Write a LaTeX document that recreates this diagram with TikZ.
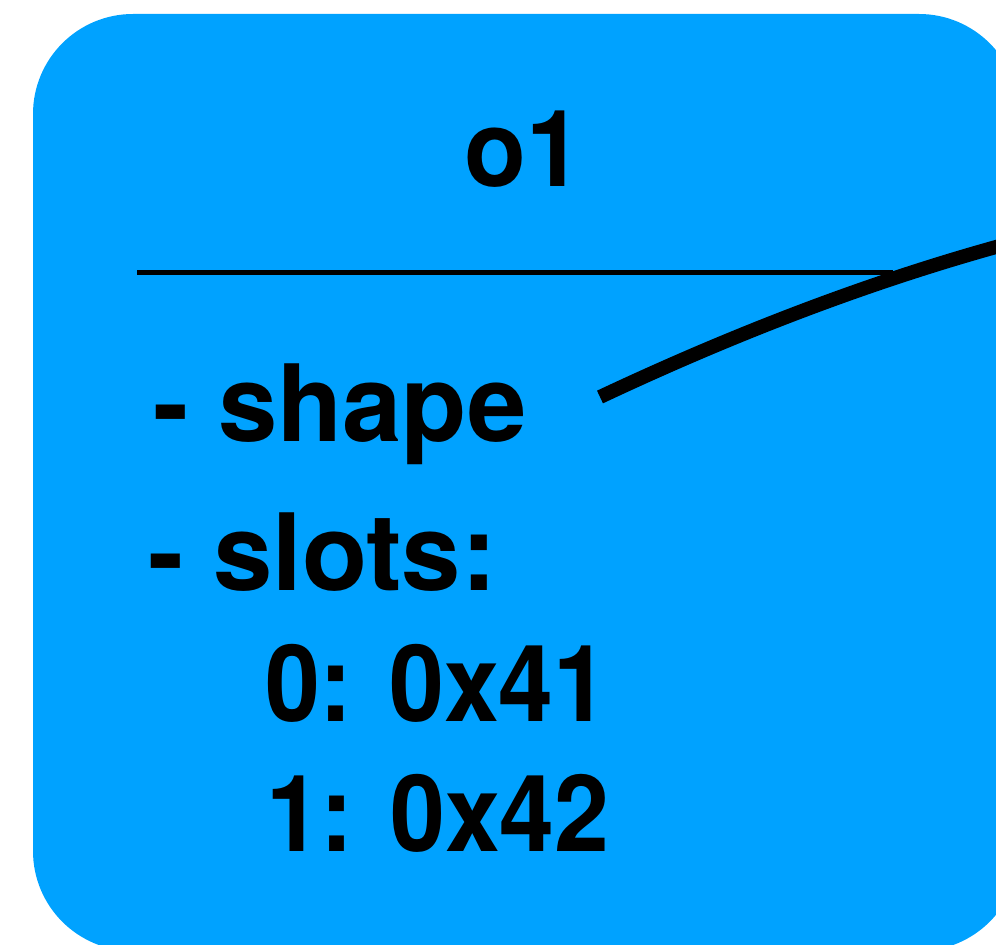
\documentclass[tikz,border=0pt]{standalone}
\usepackage{fontspec}
\setmainfont{TeX Gyre Heros}
\usetikzlibrary{calc}
\definecolor{objblue}{RGB}{0,162,255}
\begin{document}
\begin{tikzpicture}[x=0.75pt,y=-0.75pt,
  lbl/.style={inner sep=0pt,outer sep=0pt,font=\fontsize{80}{96}\selectfont\bfseries,text=black},
  rule/.style={line width=3.75pt,draw=black},
  ptr/.style={line width=10.5pt,draw=black,line cap=butt}]
\useasboundingbox (0,0) rectangle (996,945);
\clip (0,0) rectangle (996,945);
\fill[objblue,rounded corners=75pt] (33,14) rectangle (1019,951);
\node[lbl,anchor=base] (title) at (524,187) {\scalebox{0.95}[1]{o1}};
\coordinate (ruleL) at (137,272);
\coordinate (ruleR) at (893,272);
\draw[rule] (ruleL) -- (ruleR);
\node[lbl,anchor=base west] (shape) at (153,441) {- shape};
\node[lbl,anchor=base west] (slots) at (148,590) {- slots:};
\node[lbl,anchor=base west] (s0) at (265,721) {\scalebox{0.925}[1]{0: 0x41}};
\node[lbl,anchor=base west] (s1) at (266,851) {\scalebox{0.925}[1]{1: 0x42}};
\coordinate (pA) at (600,397);
\coordinate (pC) at (806,300);
\coordinate (pB) at (996,247);
\coordinate (pD) at (1040,234.7);
\draw[ptr] (pA) .. controls ($(pA)!0.6667!(pC)$) and ($(pB)!0.6667!(pC)$) .. (pB) -- (pD);
\end{tikzpicture}
\end{document}
